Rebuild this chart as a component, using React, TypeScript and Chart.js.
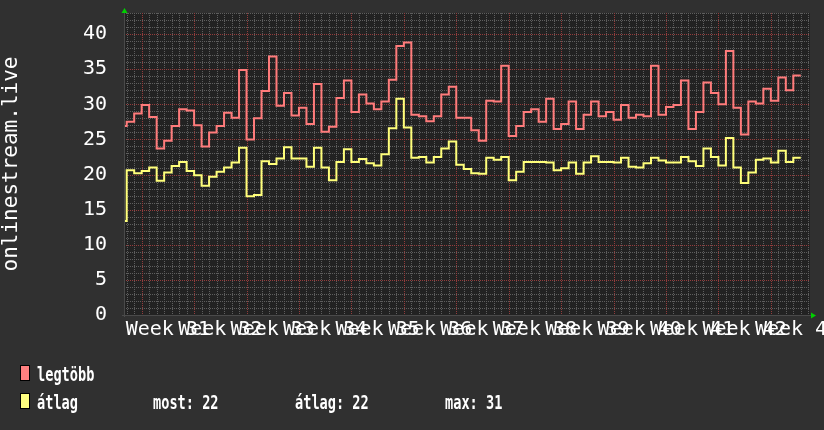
import React, { useEffect, useRef } from 'react';
import { Chart, registerables } from 'chart.js';

Chart.register(...registerables);

// ---- data ----
const yAxisTitle = 'onlinestream.live';
const weekLabels = [
  'Week 31', 'Week 32', 'Week 33', 'Week 34', 'Week 35', 'Week 36', 'Week 37',
  'Week 38', 'Week 39', 'Week 40', 'Week 41', 'Week 42', 'Week 43',
];
// day index (from first full day) on which week 31 starts
const firstWeekStartDay = 2;
// day index of the first value in the series arrays
const firstDay = -1;

const maxSeries = [
  26.9,
  27.5, 28.7, 29.9, 28.2, 23.7, 24.8, 26.9, 29.3, 29.1, 27.0, 24.0, 26.0, 26.9, 28.8, 28.1,
  34.9, 25.0, 28.0, 31.9, 36.8, 29.8, 31.6, 28.4, 29.5, 27.2, 32.9, 26.1, 26.8, 30.9, 33.4,
  28.9, 31.4, 30.1, 29.3, 30.4, 33.5, 38.3, 38.8, 28.5, 28.3, 27.6, 28.3, 31.4, 32.5, 28.1, 28.1,
  26.3, 24.8, 30.5, 30.4, 35.5, 25.5, 26.9, 28.9, 29.3, 27.5, 30.8, 26.5, 27.2, 30.4, 26.5,
  28.5, 30.4, 28.3, 28.9, 27.8, 29.9, 28.1, 28.5, 28.3, 35.5, 28.5, 29.6, 29.9, 33.4, 26.5,
  28.9, 33.1, 31.6, 30.0, 37.6, 29.5, 25.7, 30.4, 30.1, 32.2, 30.5, 33.8, 32.0, 34.1,
];

const avgSeries = [
  13.4,
  20.6, 20.2, 20.5, 21.0, 19.1, 20.3, 21.2, 21.8, 20.5, 19.9, 18.4, 19.7, 20.4, 21.0, 21.7,
  23.8, 16.9, 17.1, 21.9, 21.5, 22.3, 23.9, 22.3, 22.3, 21.1, 23.8, 21.0, 19.2, 21.8, 23.6,
  21.8, 22.2, 21.6, 21.3, 22.9, 26.6, 30.8, 26.7, 22.4, 22.5, 21.7, 22.5, 23.7, 24.7, 21.4, 20.8,
  20.2, 20.1, 22.4, 22.1, 22.5, 19.2, 20.4, 21.8, 21.8, 21.8, 21.7, 20.6, 20.9, 21.7, 20.1,
  21.7, 22.6, 21.8, 21.8, 21.7, 22.4, 21.1, 21.0, 21.6, 22.4, 22.0, 21.7, 21.7, 22.5, 21.9,
  21.2, 23.7, 22.5, 21.3, 25.2, 21.0, 18.8, 20.3, 22.1, 22.3, 21.7, 23.4, 21.8, 22.4,
];

const seriesNames = ['legtöbb', 'átlag'];
const statNames = ['most', 'átlag', 'max'];

const xMin = -0.36;
const xMax = 91.23;
const yMin = 0;
const yMax = 43;

// ---- styles ----
const OUTER_BG = '#303030';
const PLOT_BG = '#222222';
const MINOR_GRID = '#5e5e5e';
const MAJOR_GRID = '#943c3c';
const RED_LINE = '#ff7b7b';
const YEL_LINE = '#ffff7a';
const RED_BOX = '#ff8080';
const YEL_BOX = '#ffff80';
const TEXT = '#ffffff';
const FONT = '"DejaVu Sans Mono", monospace';

function toPoints(vals: number[]) {
  const pts = vals.map((v, i) => ({ x: firstDay + i, y: v }));
  pts.push({ x: firstDay + vals.length, y: vals[vals.length - 1] });
  return pts;
}

function isWeekStart(v: number) {
  return Number.isInteger(v) && (v - firstWeekStartDay) % 7 === 0;
}

function zeroPadding(s: any) {
  s.paddingTop = 0;
  s.paddingBottom = 0;
  s.paddingLeft = 0;
  s.paddingRight = 0;
}

const decorPlugin = {
  id: 'rrdDecor',
  beforeDraw(chart: any) {
    const { ctx, chartArea } = chart;
    ctx.save();
    ctx.fillStyle = OUTER_BG;
    ctx.fillRect(0, 0, chart.width, chart.height);
    ctx.fillStyle = PLOT_BG;
    ctx.fillRect(chartArea.left, chartArea.top, chartArea.right - chartArea.left, chartArea.bottom - chartArea.top);
    ctx.restore();
  },
  beforeDatasetsDraw(chart: any) {
    const { ctx, chartArea } = chart;
    const { left, right, top, bottom } = chartArea;
    const xs = chart.scales.x;
    const ys = chart.scales.y;
    ctx.save();
    ctx.lineWidth = 1;
    ctx.setLineDash([1, 1]);
    const pass = (major: boolean) => {
      ctx.strokeStyle = major ? MAJOR_GRID : MINOR_GRID;
      ctx.beginPath();
      ys.ticks.forEach((t: any) => {
        const v = t.value;
        if ((v % 5 === 0) !== major) return;
        const y = Math.round(ys.getPixelForValue(v)) + 0.5;
        if (y > bottom - 0.5) return;
        ctx.moveTo(left, y);
        ctx.lineTo(right, y);
      });
      xs.ticks.forEach((t: any) => {
        const v = t.value;
        if (!Number.isInteger(v)) return;
        if (isWeekStart(v) !== major) return;
        const x = Math.round(xs.getPixelForValue(v)) + 0.5;
        ctx.moveTo(x, top);
        ctx.lineTo(x, bottom);
      });
      ctx.stroke();
    };
    pass(false);
    pass(true);
    ctx.restore();
  },
  afterDraw(chart: any) {
    const { ctx, chartArea } = chart;
    const { left, right, top, bottom } = chartArea;
    ctx.save();
    // axis lines
    ctx.strokeStyle = '#4a4a4a';
    ctx.lineWidth = 1;
    ctx.beginPath();
    ctx.moveTo(left + 0.5, bottom + 2);
    ctx.lineTo(left + 0.5, top - 3);
    ctx.moveTo(left - 2, bottom + 0.5);
    ctx.lineTo(right + 2, bottom + 0.5);
    ctx.stroke();
    // arrows
    ctx.fillStyle = '#00d000';
    ctx.beginPath();
    ctx.moveTo(left + 0.5, top - 5);
    ctx.lineTo(left - 2.5, top);
    ctx.lineTo(left + 3.5, top);
    ctx.closePath();
    ctx.fill();
    ctx.beginPath();
    ctx.moveTo(right + 6, bottom + 0.5);
    ctx.lineTo(right + 1, bottom - 2.5);
    ctx.lineTo(right + 1, bottom + 3.5);
    ctx.closePath();
    ctx.fill();

    // y axis title
    ctx.save();
    ctx.fillStyle = TEXT;
    ctx.font = `21px ${FONT}`;
    ctx.textAlign = 'center';
    ctx.textBaseline = 'middle';
    ctx.translate(11.5, (top + bottom) / 2);
    ctx.rotate(-Math.PI / 2);
    ctx.fillText(yAxisTitle, 0, 0);
    ctx.restore();

    // legend
    const drawText = (t: string, x: number, y: number) => {
      ctx.save();
      ctx.translate(x, y);
      ctx.scale(0.68, 1);
      ctx.fillText(t, 0, 0);
      ctx.restore();
    };
    const box = (x: number, y: number, c: string) => {
      ctx.fillStyle = c;
      ctx.fillRect(x, y, 10, 16);
      ctx.strokeStyle = '#000000';
      ctx.lineWidth = 1;
      ctx.strokeRect(x + 0.5, y + 0.5, 9, 15);
    };
    box(20, 365, RED_BOX);
    box(20, 393, YEL_BOX);
    ctx.fillStyle = TEXT;
    ctx.font = `bold 20px ${FONT}`;
    ctx.textBaseline = 'alphabetic';
    ctx.textAlign = 'left';
    drawText(seriesNames[0], 37, 381);
    drawText(seriesNames[1], 37, 408.5);
    const last = avgSeries[avgSeries.length - 1];
    const mean = avgSeries.slice(1).reduce((a, b) => a + b, 0) / (avgSeries.length - 1);
    const mx = Math.max(...avgSeries);
    drawText(`${statNames[0]}: ${Math.round(last)}`, 153, 408.5);
    drawText(`${statNames[1]}: ${Math.round(mean)}`, 295, 408.5);
    drawText(`${statNames[2]}: ${Math.round(mx)}`, 445, 408.5);
    ctx.restore();
  },
};

export default function App() {
  const ref = useRef<HTMLCanvasElement | null>(null);

  useEffect(() => {
    document.body.style.margin = '0';
    document.body.style.background = OUTER_BG;
    const canvas = ref.current;
    if (!canvas) return;
    Chart.defaults.font.family = FONT;

    const chart = new Chart(canvas, {
      type: 'line',
      data: {
        datasets: [
          {
            label: seriesNames[0],
            data: toPoints(maxSeries),
            borderColor: RED_LINE,
            borderWidth: 2,
            pointRadius: 0,
            stepped: 'before',
            fill: false,
            clip: 0,
          },
          {
            label: seriesNames[1],
            data: toPoints(avgSeries),
            borderColor: YEL_LINE,
            borderWidth: 2,
            pointRadius: 0,
            stepped: 'before',
            fill: false,
            clip: 0,
          },
        ],
      },
      options: {
        animation: false,
        responsive: false,
        devicePixelRatio: 1,
        events: [],
        layout: { padding: { left: 0, right: 14, top: 13, bottom: 0 } },
        plugins: {
          legend: { display: false },
          tooltip: { enabled: false },
        },
        scales: {
          x: {
            type: 'linear',
            min: xMin,
            max: xMax,
            afterBuildTicks: (s: any) => {
              const t: { value: number }[] = [];
              for (let d = Math.ceil(xMin); d <= Math.floor(xMax); d++) t.push({ value: d });
              weekLabels.forEach((_, k) => t.push({ value: firstWeekStartDay + 7 * k + 3.5 }));
              t.sort((a, b) => a.value - b.value);
              s.ticks = t;
            },
            afterFit: (s: any) => {
              s.height = 115;
              zeroPadding(s);
            },
            ticks: {
              autoSkip: false,
              maxRotation: 0,
              minRotation: 0,
              padding: 3,
              color: TEXT,
              font: { size: 20, family: FONT },
              callback: (value: any) => {
                const k = (Number(value) - firstWeekStartDay - 3.5) / 7;
                if (Number.isInteger(k) && k >= 0 && k < weekLabels.length) return weekLabels[k];
                return '';
              },
            },
            grid: { display: false, drawTicks: false },
            border: { display: false },
          },
          y: {
            type: 'linear',
            min: yMin,
            max: yMax,
            afterBuildTicks: (s: any) => {
              const t: { value: number }[] = [];
              for (let v = yMin; v <= yMax; v++) t.push({ value: v });
              s.ticks = t;
            },
            afterFit: (s: any) => {
              s.width = 124;
              zeroPadding(s);
            },
            ticks: {
              autoSkip: false,
              padding: 17,
              color: TEXT,
              font: { size: 20, family: FONT },
              callback: (value: any) => (Number(value) % 5 === 0 ? String(value) : ''),
            },
            grid: { display: false, drawTicks: false },
            border: { display: false },
          },
        },
      } as any,
      plugins: [decorPlugin],
    });

    return () => chart.destroy();
  }, []);

  return (
    <div style={{ width: 824, height: 430, background: OUTER_BG }}>
      <canvas ref={ref} width={824} height={430} style={{ display: 'block', width: 824, height: 430 }} />
    </div>
  );
}
